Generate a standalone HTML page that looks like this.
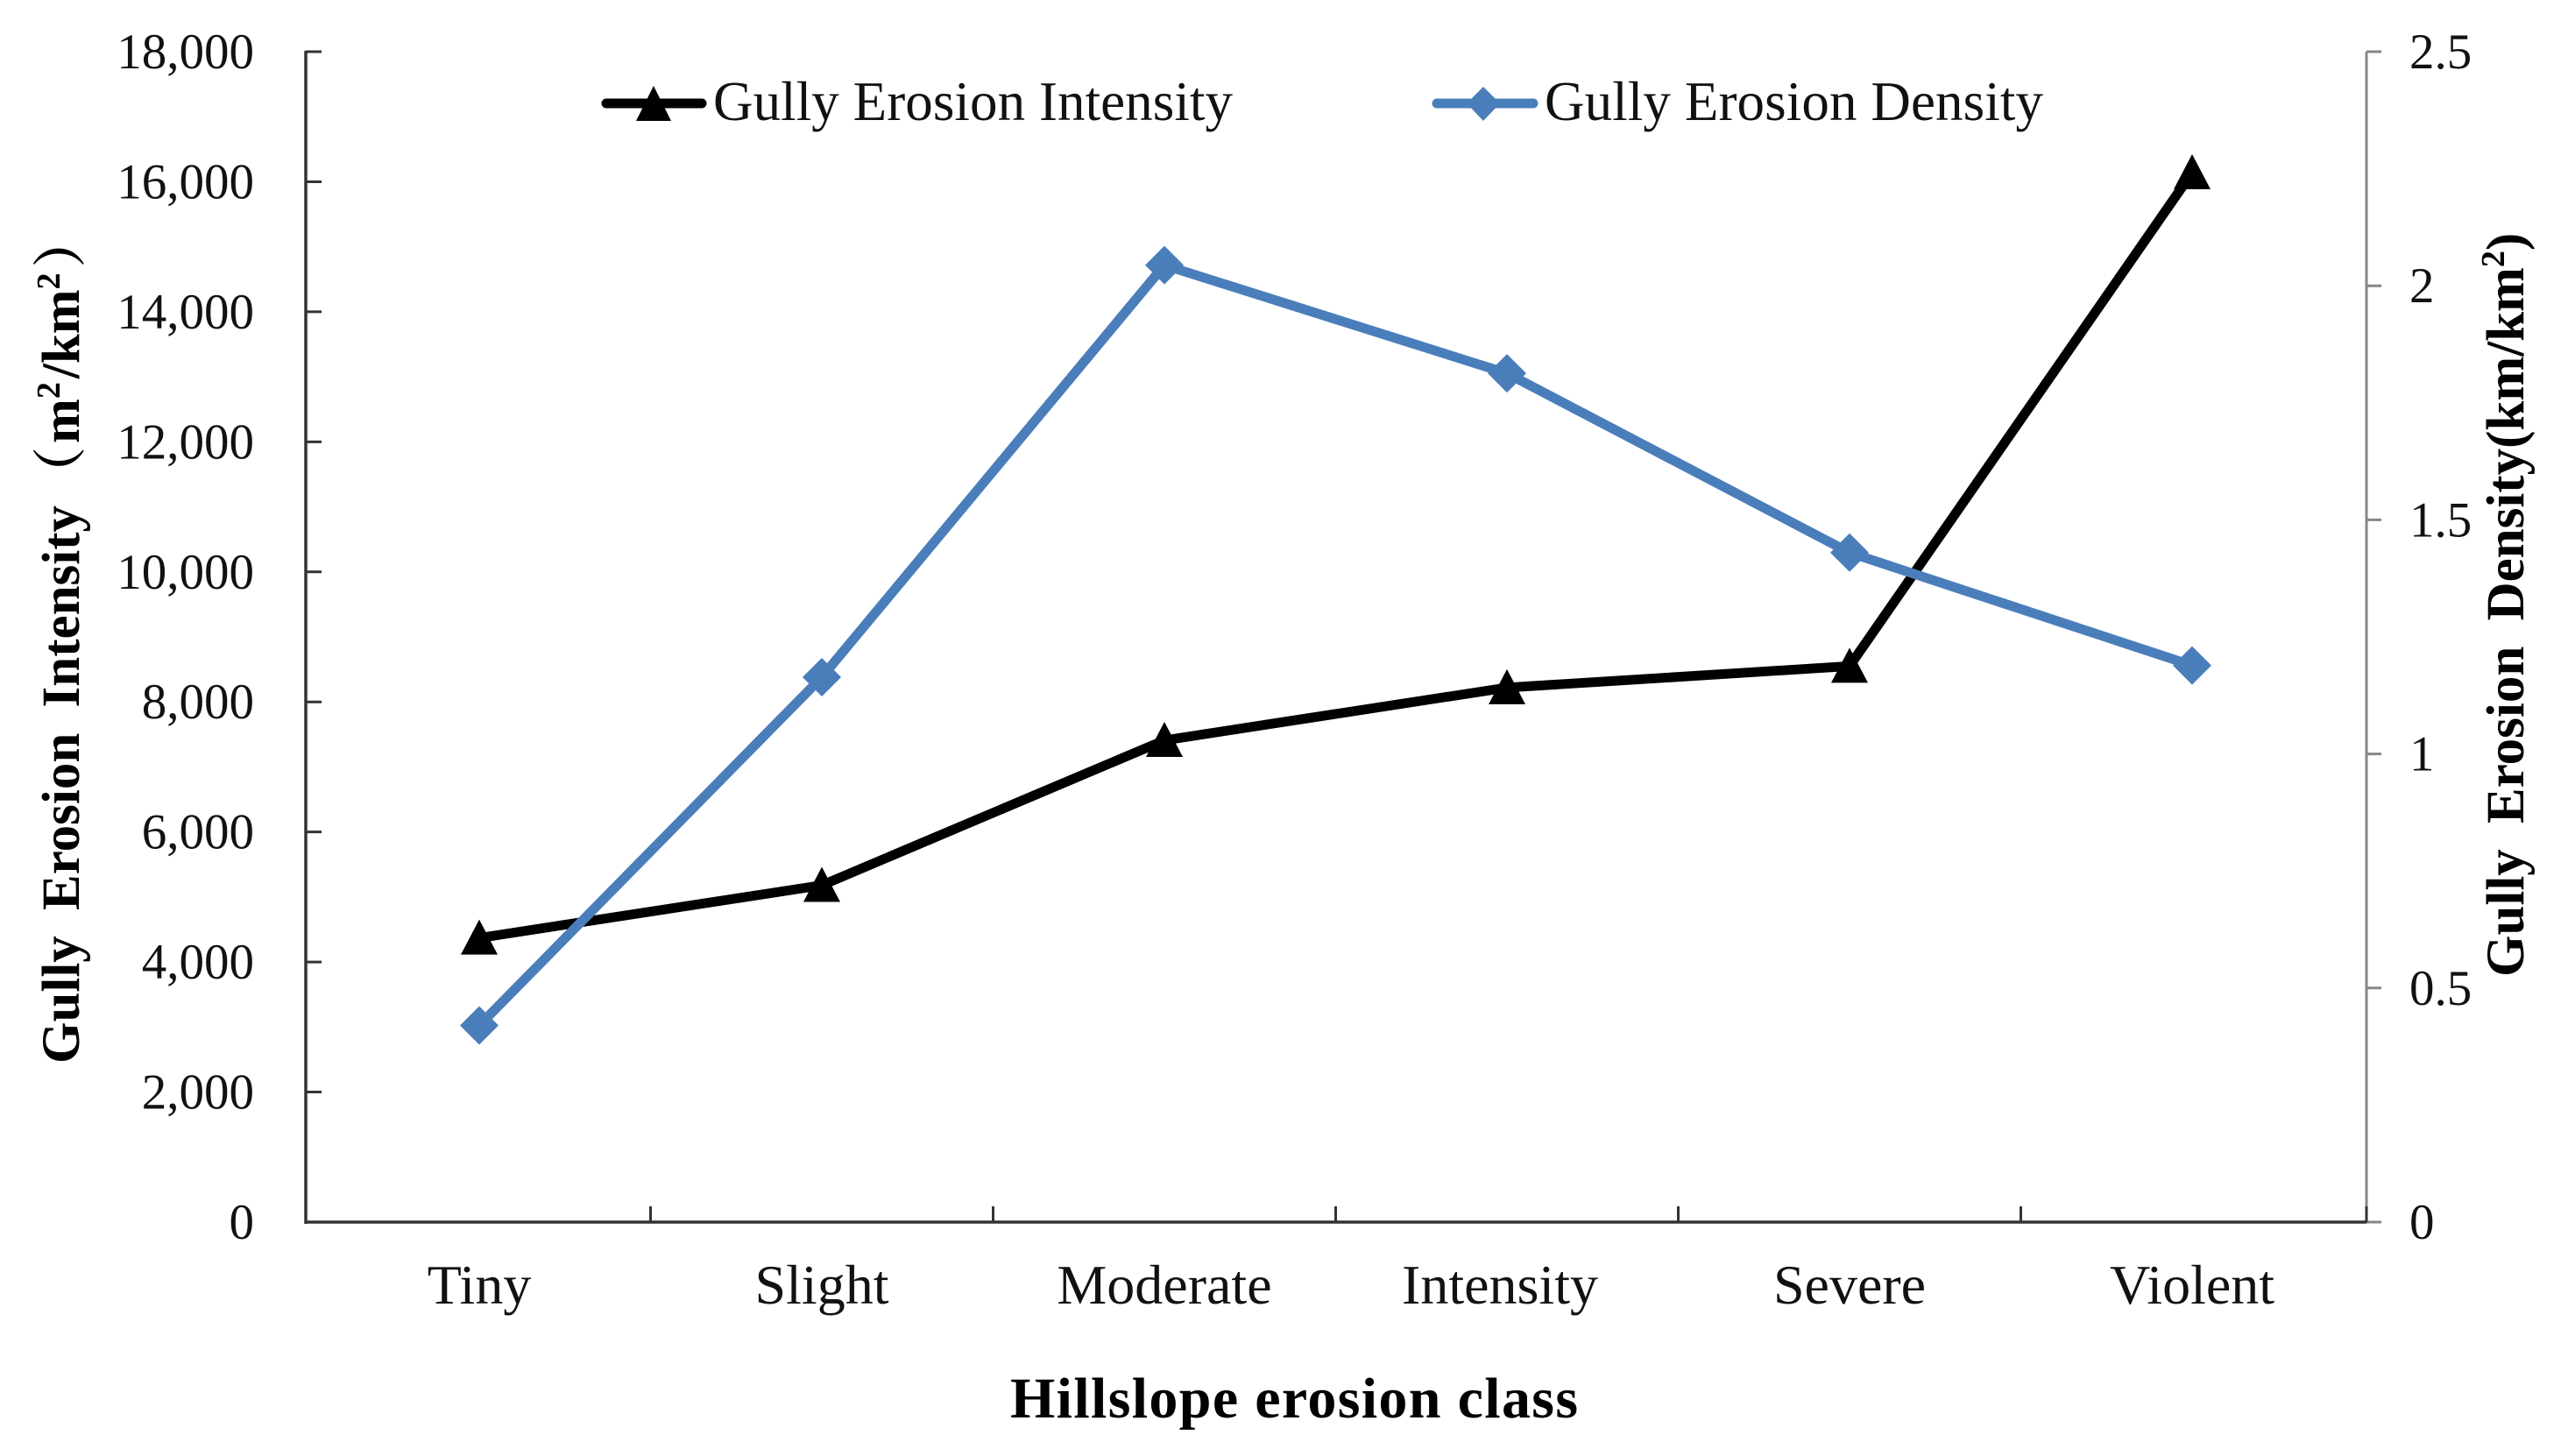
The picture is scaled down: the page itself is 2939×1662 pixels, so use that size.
<!DOCTYPE html>
<html lang="en">
<head>
<meta charset="utf-8">
<title>Gully erosion by hillslope erosion class</title>
<style>
  html, body { margin: 0; padding: 0; background: #ffffff; }
  body { width: 2939px; height: 1662px; overflow: hidden; }
  svg { display: block; }
  text { font-family: "Liberation Serif", "Noto Serif CJK SC", serif; fill: #111111; }
  .title { font-weight: bold; fill: #000000; }
</style>
</head>
<body>
<svg id="chart" xmlns="http://www.w3.org/2000/svg" width="2939" height="1662" viewBox="0 0 2939 1662">
  <rect x="0" y="0" width="2939" height="1662" fill="#ffffff"/>
  <g id="axes"></g>
  <g id="series"></g>

  <g>
    <g>
      <line x1="692" y1="118" x2="801" y2="118" stroke="#000000" stroke-width="11" stroke-linecap="round"/>
      <polygon points="746,98 766,138 726,138" fill="#000000"/>
      <text x="814" y="137" font-size="63" textLength="593" lengthAdjust="spacing">Gully Erosion Intensity</text>
    </g>
    <g>
      <line x1="1640" y1="118" x2="1750" y2="118" stroke="#4a7ebb" stroke-width="11" stroke-linecap="round"/>
      <polygon points="1693,99 1712,118 1693,138 1674,118" fill="#4a7ebb"/>
      <text x="1763" y="137" font-size="63" textLength="569" lengthAdjust="spacing">Gully Erosion Density</text>
    </g>
  </g>

  <text class="title" x="1153" y="1618" font-size="66" textLength="648" lengthAdjust="spacing">Hillslope erosion class</text>

  <text class="title" transform="translate(90,1214) rotate(-90)" font-size="61" word-spacing="14">Gully Erosion Intensity<tspan dx="6">（</tspan><tspan dx="4">m</tspan><tspan font-size="38" dy="-22">2</tspan><tspan dy="22" dx="4">/km</tspan><tspan font-size="38" dy="-22">2</tspan><tspan dy="22" dx="6">）</tspan></text>

  <text class="title" transform="translate(2880,1115) rotate(-90)" font-size="61" word-spacing="14">Gully Erosion Density(km/km<tspan font-size="38" dy="-22">2</tspan><tspan dy="22">)</tspan></text>
</svg>

<script>
var categories = ["Tiny", "Slight", "Moderate", "Intensity", "Severe", "Violent"];
var intensityValues = [4370, 5180, 7410, 8220, 8550, 16140];
var densityValues = [0.42, 1.164, 2.044, 1.813, 1.43, 1.189];
var leftTicks = [0, 2000, 4000, 6000, 8000, 10000, 12000, 14000, 16000, 18000];
var leftTickLabels = ["0", "2,000", "4,000", "6,000", "8,000", "10,000", "12,000", "14,000", "16,000", "18,000"];
var rightTicks = [0, 0.5, 1, 1.5, 2, 2.5];
var rightTickLabels = ["0", "0.5", "1", "1.5", "2", "2.5"];

var NS = "http://www.w3.org/2000/svg";
var plotLeft = 349, plotRight = 2701, plotTop = 59, plotBottom = 1395;
var bandOrigin = 351.5, bandWidth = 391;
var leftMax = 18000, rightMax = 2.5;

function xBand(i) { return bandOrigin + bandWidth * i; }
function xCenter(i) { return bandOrigin + bandWidth * (i + 0.5); }
function yLeft(v) { return plotBottom - (plotBottom - plotTop) * v / leftMax; }
function yRight(v) { return plotBottom - (plotBottom - plotTop) * v / rightMax; }

function make(tag, parent) {
  var node = document.createElementNS(NS, tag);
  parent.appendChild(node);
  return node;
}
function setLine(node, x1, y1, x2, y2, color, width) {
  node.setAttribute("x1", x1);
  node.setAttribute("y1", y1);
  node.setAttribute("x2", x2);
  node.setAttribute("y2", y2);
  node.setAttribute("stroke", color);
  node.setAttribute("stroke-width", width);
}
function setText(node, x, y, size, anchor, str) {
  node.setAttribute("x", x);
  node.setAttribute("y", y);
  node.setAttribute("font-size", size);
  node.setAttribute("text-anchor", anchor);
  node.textContent = str;
}

var axes = document.getElementById("axes");
var seriesGroup = document.getElementById("series");
var el, i;

el = make("line", axes);
setLine(el, plotRight, plotTop, plotRight, plotBottom, "#868686", 3);



el = make("line", axes);
setLine(el, plotLeft, plotTop - 1, plotLeft, plotBottom + 2, "#333333", 3.5);



el = make("line", axes);
setLine(el, plotLeft, plotBottom, plotRight, plotBottom, "#333333", 3.5);



for (i = 0; i < leftTicks.length; i++) {
  el = make("line", axes);
  setLine(el, plotLeft, yLeft(leftTicks[i]), plotLeft + 18, yLeft(leftTicks[i]), "#333333", 3);
  
  

  el = make("text", axes);
  setText(el, 290, yLeft(leftTicks[i]) + 19, 57, "end", leftTickLabels[i]);
  
  
}

for (i = 0; i < rightTicks.length; i++) {
  el = make("line", axes);
  setLine(el, plotRight, yRight(rightTicks[i]), plotRight + 17, yRight(rightTicks[i]), "#868686", 3);
  
  

  el = make("text", axes);
  setText(el, 2750, yRight(rightTicks[i]) + 19, 57, "start", rightTickLabels[i]);
  
  
}

for (i = 1; i < categories.length; i++) {
  el = make("line", axes);
  setLine(el, xBand(i), plotBottom, xBand(i), plotBottom - 18, "#333333", 3);
  
  
}

el = make("line", axes);
setLine(el, plotRight, plotBottom, plotRight, plotBottom - 18, "#333333", 3);



for (i = 0; i < categories.length; i++) {
  el = make("text", axes);
  setText(el, xCenter(i) + (categories[i] === "Intensity" ? -8 : 0), 1488, 64, "middle", categories[i]);
  
  
}

function linePoints(values, yFn) {
  var pts = [];
  for (var k = 0; k < values.length; k++) {
    pts.push(xCenter(k) + "," + yFn(values[k]));
  }
  return pts.join(" ");
}

el = make("polyline", seriesGroup);
el.setAttribute("points", linePoints(intensityValues, yLeft));
el.setAttribute("fill", "none");
el.setAttribute("stroke", "#000000");
el.setAttribute("stroke-width", "11");
el.setAttribute("stroke-linejoin", "round");



for (i = 0; i < intensityValues.length; i++) {
  var tx = xCenter(i), ty = yLeft(intensityValues[i]);
  el = make("polygon", seriesGroup);
  el.setAttribute("points", tx + "," + (ty - 21) + " " + (tx + 21) + "," + (ty + 19) + " " + (tx - 21) + "," + (ty + 19));
  el.setAttribute("fill", "#000000");
  
  
}

el = make("polyline", seriesGroup);
el.setAttribute("points", linePoints(densityValues, yRight));
el.setAttribute("fill", "none");
el.setAttribute("stroke", "#4a7ebb");
el.setAttribute("stroke-width", "11");
el.setAttribute("stroke-linejoin", "round");



for (i = 0; i < densityValues.length; i++) {
  var dx = xCenter(i), dy = yRight(densityValues[i]);
  el = make("polygon", seriesGroup);
  el.setAttribute("points", dx + "," + (dy - 22) + " " + (dx + 22) + "," + dy + " " + dx + "," + (dy + 22) + " " + (dx - 22) + "," + dy);
  el.setAttribute("fill", "#4a7ebb");
  
  
}
</script>
</body>
</html>
